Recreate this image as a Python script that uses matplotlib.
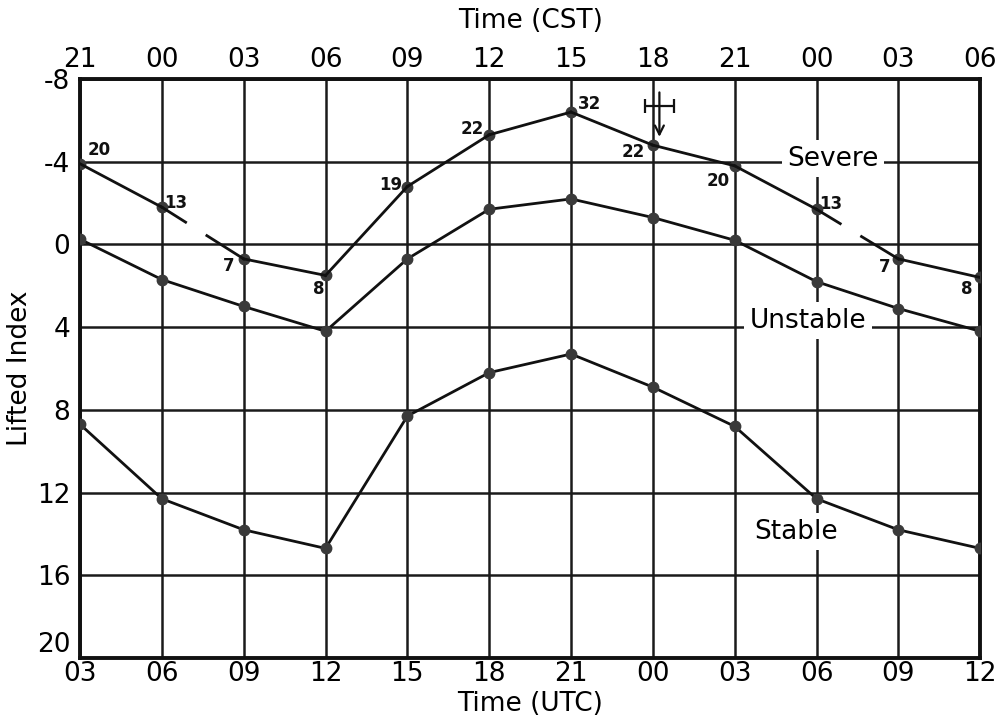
import numpy as np
import matplotlib.pyplot as plt

plt.rcParams['axes.unicode_minus'] = False

utc_labels = ['03', '06', '09', '12', '15', '18', '21', '00', '03', '06', '09', '12']
cst_labels = ['21', '00', '03', '06', '09', '12', '15', '18', '21', '00', '03', '06']

severe = [-3.9, -1.8, 0.7, 1.5, -2.8, -5.3, -6.4, -4.8, -3.8, -1.7, 0.7, 1.6]
unstable = [-0.25, 1.7, 3.0, 4.2, 0.7, -1.7, -2.2, -1.3, -0.2, 1.8, 3.1, 4.2]
stable = [8.7, 12.3, 13.8, 14.7, 8.3, 6.2, 5.3, 6.9, 8.8, 12.3, 13.8, 14.7]
severe_counts = ['20', '13', '7', '8', '19', '22', '32', '22', '20', '13', '7', '8']
# label offsets in points (dx, dy)
count_offsets = [(14, 10), (10, 3), (-11, -5), (-5, -10), (-12, 1), (-12, 4),
                 (13, 6), (-14, -5), (-12, -11), (10, 4), (-10, -6), (-10, -8)]
gaps = [1, 9]  # segment index i -> i+1 drawn broken

x = np.arange(len(utc_labels))

fig = plt.figure(figsize=(10.08, 7.16), dpi=100)
ax = fig.add_axes([0.0794, 0.081, 0.893, 0.8087])

ax.set_xlim(0, len(x) - 1)
ax.set_ylim(20, -8)
ax.set_yticks([-8, -4, 0, 4, 8, 12, 16, 20])
ax.set_xticks(x)
ax.set_xticklabels(utc_labels)
ax.grid(True, color='#1a1a1a', linewidth=1.8)
ax.tick_params(length=0, labelsize=19, pad=2)
ax.tick_params(axis='y', pad=7)
ax.get_yticklabels()[-1].set_va('bottom')
for s in ax.spines.values():
    s.set_linewidth(2.8)
    s.set_color('#111111')

lw = 2.0
mk = dict(marker='o', markersize=7.5, markerfacecolor='#3a3a3a',
          markeredgecolor='#3a3a3a', color='#111111', linewidth=lw, zorder=4)

ax.plot(x, unstable, **mk)
ax.plot(x, stable, **mk)

# severe: connect normally except the broken segments
ax.plot(x, severe, linestyle='none', **{k: v for k, v in mk.items() if k != 'linewidth'})
for i in range(len(x) - 1):
    x0, x1, y0, y1 = x[i], x[i + 1], severe[i], severe[i + 1]
    if i in gaps:
        for a, b in [(0, 0.29), (0.55, 1)]:
            ax.plot([x0 + a * (x1 - x0), x0 + b * (x1 - x0)],
                    [y0 + a * (y1 - y0), y0 + b * (y1 - y0)],
                    color='#111111', linewidth=lw, zorder=4)
    else:
        ax.plot([x0, x1], [y0, y1], color='#111111', linewidth=lw, zorder=4)

for xi, yi, t, (dx, dy) in zip(x, severe, severe_counts, count_offsets):
    ax.annotate(t, (xi, yi), xytext=(dx, dy), textcoords='offset points',
                ha='center', va='center', fontsize=12, fontweight='bold', color='#111111')

box = dict(facecolor='white', edgecolor='none', pad=4)
ax.text(9.2, -4.15, 'Severe', fontsize=19, ha='center', va='center', bbox=box, zorder=5)
ax.text(8.9, 3.7, 'Unstable', fontsize=19, ha='center', va='center', bbox=box, zorder=5)
ax.text(8.75, 13.9, 'Stable', fontsize=19, ha='center', va='center', bbox=box, zorder=5)

# arrow with horizontal range bar
ax.annotate('', xy=(7.08, -5.2), xytext=(7.08, -7.35),
            arrowprops=dict(arrowstyle='->', color='#111111', lw=1.6,
                            mutation_scale=16, shrinkA=0, shrinkB=0), zorder=6)
ax.errorbar([7.08], [-6.7], xerr=[[0.18], [0.18]], fmt='none', ecolor='#111111',
            elinewidth=1.6, capsize=5, capthick=1.6, zorder=6)

ax.set_ylabel('Lifted Index', fontsize=19, labelpad=3)
ax.set_xlabel('Time (UTC)', fontsize=19, labelpad=3)

ax2 = ax.twiny()
ax2.set_xlim(ax.get_xlim())
ax2.set_xticks(x)
ax2.set_xticklabels(cst_labels)
ax2.tick_params(length=0, labelsize=19, pad=4)
ax2.set_xlabel('Time (CST)', fontsize=19, labelpad=14)
for s in ax2.spines.values():
    s.set_visible(False)

plt.savefig('out.png', dpi=100)
